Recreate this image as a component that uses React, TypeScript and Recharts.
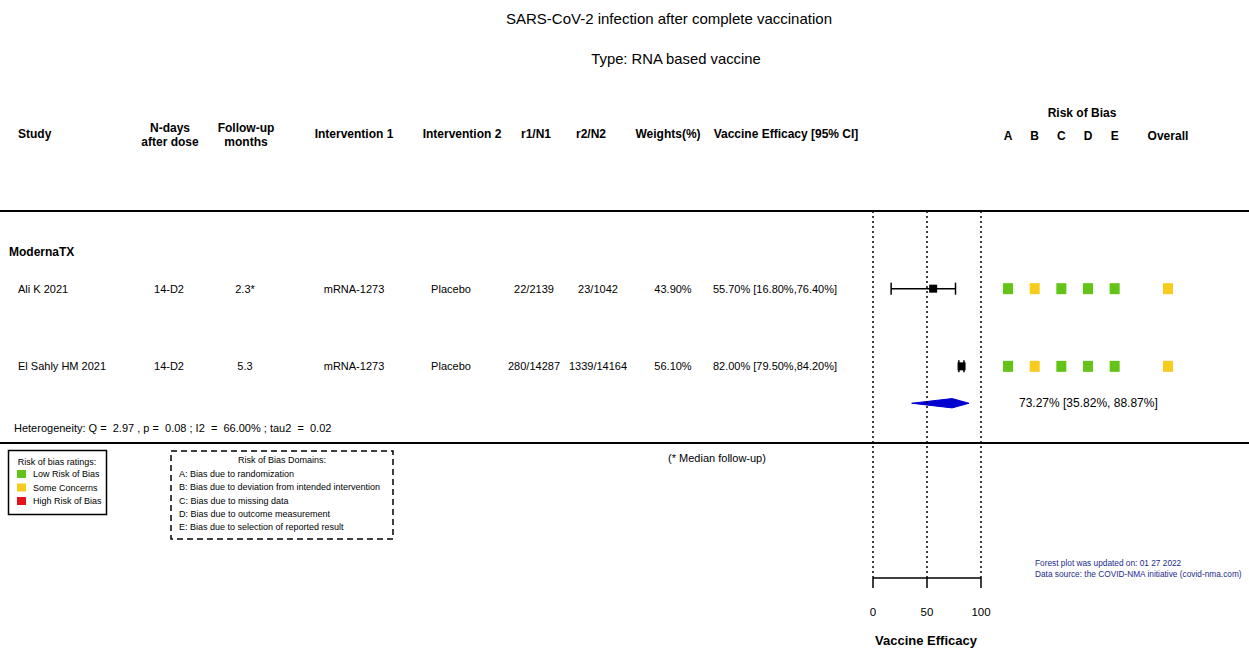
import React from "react"
import { ComposedChart, ScatterChart, Scatter, Area, XAxis, YAxis, ErrorBar, ReferenceLine } from "recharts"

// study rows
const studies = ["Ali K 2021", "El Sahly HM 2021"]
const nDays = ["14-D2", "14-D2"]
const followUp = ["2.3*", "5.3"]
const intervention1 = ["mRNA-1273", "mRNA-1273"]
const intervention2 = ["Placebo", "Placebo"]
const r1n1 = ["22/2139", "280/14287"]
const r2n2 = ["23/1042", "1339/14164"]
const weights = ["43.90%", "56.10%"]
const efficacy = [55.7, 82.0]
const ciLow = [16.8, 79.5]
const ciHigh = [76.4, 84.2]
const studyRows = [2, 4]

// pooled estimate
const pooledEfficacy = 73.27
const pooledLow = 35.82
const pooledHigh = 88.87
const pooledRow = 4.95

// heterogeneity
const hetQ = "2.97"
const hetP = "0.08"
const hetI2 = "66.00%"
const hetTau2 = "0.02"

// risk of bias
const robColumns = ["A", "B", "C", "D", "E", " ", "Overall"]
const robRatings: (string | null)[][] = [
    ["low", "some", "low", "low", "low", null, "some"],
    ["low", "some", "low", "low", "low", null, "some"],
]
const axisTicks = [0, 50, 100]

const robColors: Record<string, string> = { low: "#63c417", some: "#f8cc1d", high: "#e3141b" }
const ratingLegend = [
    { label: "Low Risk of Bias", color: robColors.low },
    { label: "Some Concerns", color: robColors.some },
    { label: "High Risk of Bias", color: robColors.high },
]
const domainLegend = [
    "A: Bias due to randomization",
    "B: Bias due to deviation from intended intervention",
    "C: Bias due to missing data",
    "D: Bias due to outcome measurement",
    "E: Bias due to selection of reported result",
]

const W = 1249
const H = 650
const PLOT_TOP = 211
const PLOT_BOTTOM = 578
const Y_MAX = 9.45
const font = "'Liberation Sans', Arial, sans-serif"
const rowY = (r: number) => PLOT_TOP + (r * (PLOT_BOTTOM - PLOT_TOP)) / Y_MAX

const pct = (v: number) => `${v.toFixed(2)}%`

const studyData = studies.map((s, i) => ({
    name: s,
    x: efficacy[i],
    y: studyRows[i],
    err: [efficacy[i] - ciLow[i], ciHigh[i] - efficacy[i]],
}))

const diamondHalf = 0.12
const diamondData = [
    { x: pooledLow, band: [pooledRow, pooledRow] },
    { x: pooledEfficacy, band: [pooledRow - diamondHalf, pooledRow + diamondHalf] },
    { x: pooledHigh, band: [pooledRow, pooledRow] },
]

const robSeries = robRatings.map((ratings, i) =>
    robColumns.map((c, j) => ({ col: c, y: studyRows[i], rating: ratings[j] }))
)

const StudySquare = (props: any) => {
    const { cx, cy } = props
    if (cx == null || cy == null) return <g />
    return <rect x={cx - 4} y={cy - 4} width={8} height={8} fill="#000" />
}

const RobSquare = (props: any) => {
    const { cx, cy, payload } = props
    if (!payload || !payload.rating || cx == null) return <g />
    return <rect x={cx - 5} y={cy - 5.5} width={10} height={11} fill={robColors[payload.rating]} />
}

function Overlay() {
    const t = { fontFamily: font, fill: "#000" }
    const headBold = { ...t, fontSize: 12, fontWeight: 700 }
    const body = { ...t, fontSize: 11 }
    return (
        <svg width={W} height={H} style={{ position: "absolute", left: 0, top: 0, pointerEvents: "none" }}>
            <text x={669} y={18} textAnchor="middle" dominantBaseline="central" style={{ ...t, fontSize: 15 }}>
                SARS-CoV-2 infection after complete vaccination
            </text>
            <text x={676} y={59} textAnchor="middle" dominantBaseline="central" style={{ ...t, fontSize: 14.8 }}>
                Type: RNA based vaccine
            </text>

            {/* header */}
            <g style={headBold} dominantBaseline="central">
                <text x={18} y={134}>Study</text>
                <text x={170} y={128} textAnchor="middle">N-days</text>
                <text x={170} y={142} textAnchor="middle">after dose</text>
                <text x={246} y={128} textAnchor="middle">Follow-up</text>
                <text x={246} y={142} textAnchor="middle">months</text>
                <text x={354} y={134} textAnchor="middle">Intervention 1</text>
                <text x={462} y={134} textAnchor="middle">Intervention 2</text>
                <text x={536} y={134} textAnchor="middle">r1/N1</text>
                <text x={591} y={134} textAnchor="middle">r2/N2</text>
                <text x={668} y={134} textAnchor="middle">Weights(%)</text>
                <text x={786} y={134} textAnchor="middle">Vaccine Efficacy [95% CI]</text>
                <text x={1082} y={113} textAnchor="middle">Risk of Bias</text>
            </g>

            <line x1={0} x2={W} y1={PLOT_TOP} y2={PLOT_TOP} stroke="#000" strokeWidth={2} />
            <line x1={0} x2={W} y1={443} y2={443} stroke="#000" strokeWidth={2} />

            <text x={9} y={252} dominantBaseline="central" style={headBold}>ModernaTX</text>

            {studies.map((s, i) => {
                const y = rowY(studyRows[i])
                return (
                    <g key={s} style={body} dominantBaseline="central">
                        <text x={18} y={y}>{s}</text>
                        <text x={169} y={y} textAnchor="middle">{nDays[i]}</text>
                        <text x={245} y={y} textAnchor="middle">{followUp[i]}</text>
                        <text x={354} y={y} textAnchor="middle">{intervention1[i]}</text>
                        <text x={451} y={y} textAnchor="middle">{intervention2[i]}</text>
                        <text x={534} y={y} textAnchor="middle">{r1n1[i]}</text>
                        <text x={598} y={y} textAnchor="middle">{r2n2[i]}</text>
                        <text x={673} y={y} textAnchor="middle">{weights[i]}</text>
                        <text x={775} y={y} textAnchor="middle">
                            {`${pct(efficacy[i])} [${pct(ciLow[i])},${pct(ciHigh[i])}]`}
                        </text>
                    </g>
                )
            })}

            <text x={1019} y={rowY(pooledRow)} dominantBaseline="central" style={{ ...t, fontSize: 12 }}>
                {`${pct(pooledEfficacy)} [${pct(pooledLow)}, ${pct(pooledHigh)}]`}
            </text>
            <text x={14} y={428} dominantBaseline="central" style={{ ...body, whiteSpace: "pre" }}>
                {`Heterogeneity: Q =  ${hetQ} , p =  ${hetP} ; I2  =  ${hetI2} ; tau2  =  ${hetTau2}`}
            </text>

            {/* rating legend */}
            <rect x={8.5} y={450.5} width={98} height={64} fill="none" stroke="#000" strokeWidth={1.5} />
            <text x={57} y={462} textAnchor="middle" dominantBaseline="central" style={{ ...t, fontSize: 9 }}>
                Risk of bias ratings:
            </text>
            {ratingLegend.map((r, i) => (
                <g key={r.label}>
                    <rect x={17} y={470 + i * 13.5} width={9} height={8} fill={r.color} />
                    <text x={33} y={474 + i * 13.5} dominantBaseline="central" style={{ ...t, fontSize: 9 }}>{r.label}</text>
                </g>
            ))}

            {/* domains legend */}
            <rect x={171} y={451} width={222} height={88} fill="none" stroke="#000" strokeWidth={1.5} strokeDasharray="6 4" />
            <text x={282} y={460} textAnchor="middle" dominantBaseline="central" style={{ ...t, fontSize: 9 }}>
                Risk of Bias Domains:
            </text>
            {domainLegend.map((d, i) => (
                <text key={d} x={179} y={474 + i * 13.3} dominantBaseline="central" style={{ ...t, fontSize: 9 }}>{d}</text>
            ))}

            <text x={717} y={458} textAnchor="middle" dominantBaseline="central" style={body}>(* Median follow-up)</text>

            <g style={{ fontFamily: font, fontSize: 8.3, fill: "#1c2b8c" }} dominantBaseline="central">
                <text x={1035} y={563}>Forest plot was updated on: 01 27 2022</text>
                <text x={1035} y={574}>Data source: the COVID-NMA initiative (covid-nma.com)</text>
            </g>

            <text x={926} y={640} textAnchor="middle" dominantBaseline="central" style={{ ...t, fontSize: 13, fontWeight: 700 }}>
                Vaccine Efficacy
            </text>
        </svg>
    )
}

export default function App() {
    return (
        <div style={{ position: "absolute", left: 0, top: 0, width: W, height: H, background: "#fff" }}>
            <div style={{ position: "absolute", left: 0, top: 0 }}>
                <ComposedChart width={W} height={H} margin={{ top: PLOT_TOP, bottom: H - PLOT_BOTTOM - 40, left: 873, right: W - 981 }}>
                    <XAxis
                        type="number"
                        dataKey="x"
                        domain={[0, 100]}
                        ticks={axisTicks}
                        height={40}
                        tickSize={10}
                        tickMargin={20}
                        axisLine={{ stroke: "#000", strokeWidth: 1.5 }}
                        tickLine={{ stroke: "#000", strokeWidth: 1.5 }}
                        tick={{ fill: "#000", fontSize: 11.5, fontFamily: font }}
                    />
                    <YAxis type="number" dataKey="y" domain={[0, Y_MAX]} reversed hide />
                    {axisTicks.map((v) => (
                        <ReferenceLine key={v} x={v} stroke="#000" strokeWidth={1.5} strokeDasharray="2 3" />
                    ))}
                    <Area
                        data={diamondData}
                        dataKey="band"
                        type="linear"
                        fill="#0000d0"
                        fillOpacity={1}
                        stroke="#0000d0"
                        strokeWidth={1}
                        dot={false}
                        activeDot={false}
                        isAnimationActive={false}
                    />
                    <Scatter data={studyData} shape={StudySquare} isAnimationActive={false}>
                        <ErrorBar dataKey="err" direction="x" width={6} stroke="#000" strokeWidth={1.5} />
                    </Scatter>
                </ComposedChart>
            </div>
            <div style={{ position: "absolute", left: 0, top: 0 }}>
                <ScatterChart width={W} height={H} margin={{ top: PLOT_TOP - 30, bottom: H - PLOT_BOTTOM, left: 994.7, right: 67.7 }}>
                    <XAxis
                        type="category"
                        dataKey="col"
                        orientation="top"
                        allowDuplicatedCategory={false}
                        height={30}
                        axisLine={false}
                        tickLine={false}
                        tickMargin={65}
                        tick={{ fill: "#000", fontSize: 12, fontWeight: 700, fontFamily: font }}
                    />
                    <YAxis type="number" dataKey="y" domain={[0, Y_MAX]} reversed hide />
                    {robSeries.map((d, i) => (
                        <Scatter key={i} data={d} shape={RobSquare} isAnimationActive={false} />
                    ))}
                </ScatterChart>
            </div>
            <Overlay />
        </div>
    )
}
